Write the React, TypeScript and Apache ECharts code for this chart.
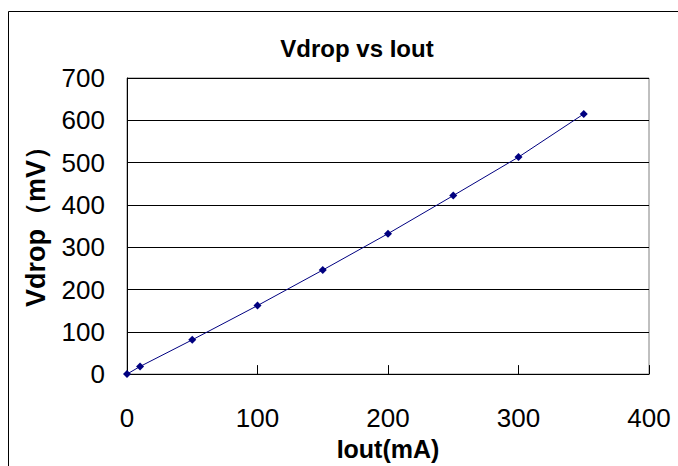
import React, { useEffect, useRef } from "react";
import * as echarts from "echarts";

const iout = [0, 10, 50, 100, 150, 200, 250, 300, 350];
const vdrop = [0, 18, 81, 162, 246, 332, 422, 513, 615];
const titleText = "Vdrop vs Iout";
const xName = "Iout(mA)";
const yName = "Vdrop（mV）";

export default function App() {
  const ref = useRef<HTMLDivElement>(null);
  useEffect(() => {
    if (!ref.current) return;
    const chart = echarts.init(ref.current, null, { renderer: "svg" });
    const font = "'Liberation Sans', Arial, sans-serif";
    chart.setOption({
      animation: false,
      backgroundColor: "#fff",
      title: {
        text: titleText,
        left: 352,
        textAlign: "center",
        top: 31,
        textStyle: { fontFamily: font, fontSize: 24, fontWeight: "bold", color: "#000" },
      },
      graphic: [
        {
          type: "rect",
          shape: { x: 8.5, y: 11.5, width: 720, height: 520 },
          style: { fill: "none", stroke: "#000", lineWidth: 1 },
          silent: true,
        },
      ],
      grid: {
        left: 127,
        right: 29,
        top: 78,
        bottom: 86,
        show: true,
        borderColor: "#808080",
        borderWidth: 1,
        backgroundColor: "#fff",
      },
      xAxis: {
        type: "value",
        min: 0,
        max: 400,
        interval: 100,
        name: xName,
        nameLocation: "middle",
        nameGap: 50,
        nameTextStyle: { fontFamily: font, fontSize: 25, fontWeight: "bold", color: "#000" },
        axisLine: { show: true, lineStyle: { color: "#000", width: 1 } },
        axisTick: { show: true, inside: true, length: 9, lineStyle: { color: "#000" } },
        axisLabel: { fontFamily: font, fontSize: 26, color: "#000", margin: 31 },
        splitLine: { show: false },
      },
      yAxis: {
        type: "value",
        min: 0,
        max: 700,
        interval: 100,
        name: yName,
        nameLocation: "middle",
        nameGap: 78,
        nameTextStyle: {
          fontFamily: font,
          fontSize: 27,
          fontWeight: "bold",
          color: "#000",
          padding: [0, 0, 0, 12],
        },
        axisLine: { show: true, lineStyle: { color: "#000", width: 1 } },
        axisTick: { show: true, inside: true, length: 6, lineStyle: { color: "#000" } },
        axisLabel: { fontFamily: font, fontSize: 26, color: "#000", margin: 22 },
        splitLine: { show: true, lineStyle: { color: "#000", width: 1 } },
      },
      series: [
        {
          type: "line",
          data: iout.map((x, i) => [x, vdrop[i]]),
          symbol: "diamond",
          symbolSize: 8,
          lineStyle: { color: "#000080", width: 1 },
          itemStyle: { color: "#000080" },
        },
      ],
    });
    return () => chart.dispose();
  }, []);
  return (
    <div
      ref={ref}
      style={{ position: "fixed", left: 0, top: 0, width: 678, height: 466, background: "#fff" }}
    />
  );
}
